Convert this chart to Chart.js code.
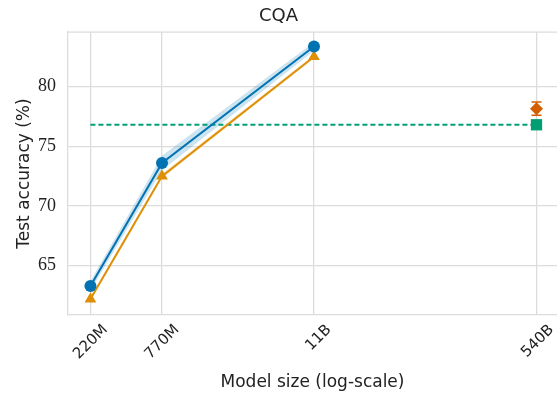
<!DOCTYPE html>
<html>
<head>
<meta charset="utf-8">
<script src="https://cdn.jsdelivr.net/npm/chart.js@4/dist/chart.umd.min.js"></script>
<style>
  html, body { margin: 0; padding: 0; background: #fff; overflow: hidden; }
  #wrap { width: 557px; height: 393px; }
</style>
</head>
<body>
<div id="wrap"><canvas id="cqa-chart" width="557" height="393"></canvas></div>
<script>
// model sizes (parameters) and labels on the x axis
const tickSizes = [220e6, 770e6, 11e9, 540e9];
const tickLabels = ['220M', '770M', '11B', '540B'];

// distilled models
const modelSizes = [220e6, 770e6, 11e9];
const blueAcc = [63.3, 73.6, 83.35];
const blueSpread = [0.4, 0.6, 0.35];
const orangeAcc = [62.2, 72.5, 82.5];
const orangeSpread = [0.15, 0.2, 0.15];

// 540B teacher points
const teacherSize = [540e9];
const diamondAcc = [78.15];
const diamondErr = [0.55];
const squareAcc = [76.8];

const BLUE = '#0173b2';
const ORANGE = '#de8f05';
const GREEN = '#029e73';
const VERMILLION = '#d55e00';
const GRID = '#dcdcdc';

const pts = (xs, ys) => xs.map((x, i) => ({ x, y: ys[i] }));
const band = (ys, sp, sign) => ys.map((y, i) => y + sign * sp[i]);

// dashed baseline spans from the first to the last model size
const baseline = [
  { x: tickSizes[0], y: squareAcc[0] },
  { x: tickSizes[tickSizes.length - 1], y: squareAcc[0] }
];

const frame = {
  id: 'frame',
  beforeDatasetsDraw(chart) {
    const { ctx, chartArea } = chart;
    ctx.save();
    ctx.strokeStyle = GRID;
    ctx.lineWidth = 1.3;
    ctx.beginPath();
    ctx.moveTo(chartArea.left, chartArea.top);
    ctx.lineTo(chartArea.right, chartArea.top);
    ctx.stroke();
    ctx.restore();
  }
};

const errorBars = {
  id: 'errorBars',
  afterDatasetsDraw(chart) {
    const { ctx, scales } = chart;
    ctx.save();
    ctx.strokeStyle = VERMILLION;
    ctx.lineWidth = 1.5;
    teacherSize.forEach((s, i) => {
      const x = scales.x.getPixelForValue(s);
      const y1 = scales.y.getPixelForValue(diamondAcc[i] - diamondErr[i]);
      const y2 = scales.y.getPixelForValue(diamondAcc[i] + diamondErr[i]);
      ctx.beginPath();
      ctx.moveTo(x, y1); ctx.lineTo(x, y2);
      ctx.moveTo(x - 5, y1); ctx.lineTo(x + 5, y1);
      ctx.moveTo(x - 5, y2); ctx.lineTo(x + 5, y2);
      ctx.stroke();
    });
    ctx.restore();
  }
};

new Chart(document.getElementById('cqa-chart'), {
  type: 'line',
  data: {
    datasets: [
      { data: pts(modelSizes, band(blueAcc, blueSpread, 1)), borderWidth: 0, pointRadius: 0,
        backgroundColor: 'rgba(1,115,178,0.2)', fill: '+1', order: 10 },
      { data: pts(modelSizes, band(blueAcc, blueSpread, -1)), borderWidth: 0, pointRadius: 0,
        backgroundColor: 'rgba(1,115,178,0.2)', fill: false, order: 10 },
      { data: pts(modelSizes, band(orangeAcc, orangeSpread, 1)), borderWidth: 0, pointRadius: 0,
        backgroundColor: 'rgba(222,143,5,0.18)', fill: '+1', order: 10 },
      { data: pts(modelSizes, band(orangeAcc, orangeSpread, -1)), borderWidth: 0, pointRadius: 0,
        backgroundColor: 'rgba(222,143,5,0.18)', fill: false, order: 10 },
      { data: baseline, borderColor: GREEN, borderWidth: 1.8, borderDash: [5, 3],
        pointRadius: 0, fill: false, order: 5 },
      { data: pts(modelSizes, orangeAcc), borderColor: ORANGE, backgroundColor: ORANGE,
        borderWidth: 2, pointStyle: 'triangle', pointRadius: 6.8, pointBorderWidth: 0, order: 3 },
      { data: pts(modelSizes, blueAcc), borderColor: BLUE, backgroundColor: BLUE,
        borderWidth: 2, pointStyle: 'circle', pointRadius: 6, pointBorderWidth: 0, order: 2 },
      { data: pts(teacherSize, squareAcc), showLine: false, backgroundColor: GREEN, borderColor: GREEN,
        pointStyle: 'rect', pointRadius: 8, pointBorderWidth: 0, order: 1 },
      { data: pts(teacherSize, diamondAcc), showLine: false, backgroundColor: VERMILLION, borderColor: VERMILLION,
        pointStyle: 'rectRot', pointRadius: 6.5, pointBorderWidth: 0, order: 1 }
    ]
  },
  options: {
    responsive: false,
    animation: false,
    layout: { padding: 0, autoPadding: false },
    plugins: {
      legend: { display: false },
      tooltip: { enabled: false },
      title: {
        display: true,
        text: 'CQA',
        color: '#222',
        font: { family: 'DejaVu Sans', size: 18, weight: 'normal', lineHeight: 1.2 },
        padding: { top: 6, bottom: 4.5 }
      }
    },
    scales: {
      x: {
        type: 'logarithmic',
        min: 1.486e8,
        max: 7.73e11,
        afterBuildTicks: s => { s.ticks = tickSizes.map(v => ({ value: v })); },
        afterFit: s => { s.height = 78; s.paddingLeft = 0; s.paddingRight = 0; },
        grid: { color: GRID, lineWidth: 1.3, drawTicks: false },
        border: { color: GRID, width: 1.3 },
        ticks: {
          autoSkip: false,
          minRotation: 45,
          maxRotation: 45,
          padding: 6,
          labelOffset: 15,
          color: '#222',
          font: { family: 'DejaVu Sans', size: 15 },
          callback: (v, i) => tickLabels[i]
        },
        title: {
          display: true,
          text: 'Model size (log-scale)',
          color: '#222',
          font: { family: 'DejaVu Sans', size: 17 },
          padding: { top: 0, bottom: 0 }
        }
      },
      y: {
        min: 60.87,
        max: 84.56,
        afterFit: s => { s.width = 68; },
        grid: { color: GRID, lineWidth: 1.3, drawTicks: false },
        border: { color: GRID, width: 1.3 },
        ticks: {
          stepSize: 5,
          includeBounds: false,
          padding: 12,
          color: '#222',
          font: { family: 'Liberation Serif', size: 18 }
        },
        title: {
          display: true,
          text: 'Test accuracy (%)',
          color: '#222',
          font: { family: 'DejaVu Sans', size: 17 },
          padding: { top: 14, bottom: 0 }
        }
      }
    }
  },
  plugins: [frame, errorBars]
});
</script>
</body>
</html>
